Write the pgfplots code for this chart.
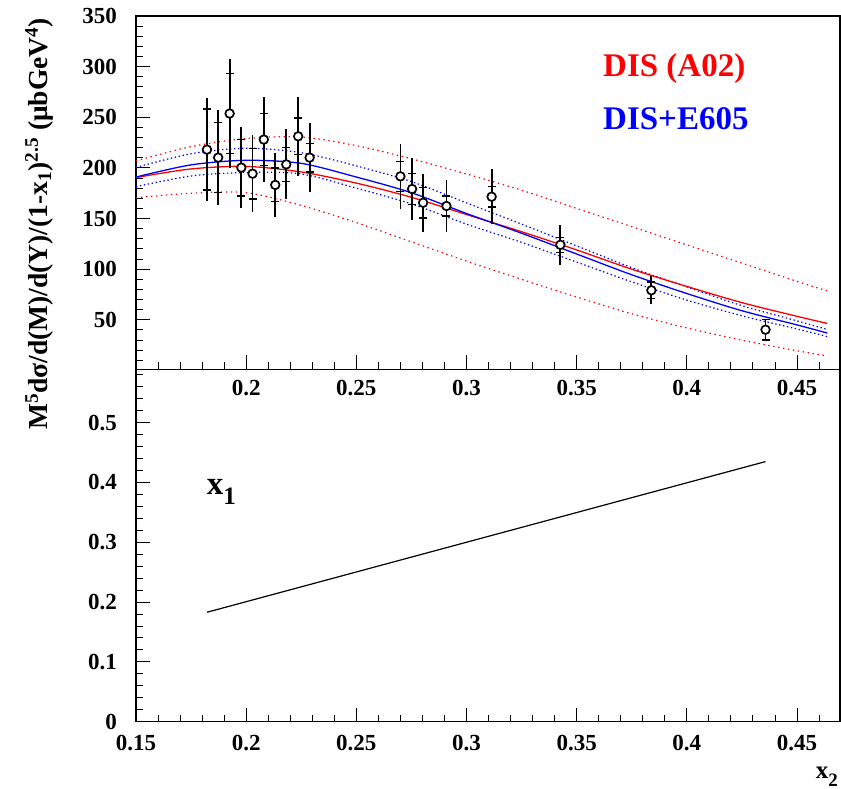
\documentclass[border=0pt]{standalone}
\usepackage{fontspec}
\setmainfont{Liberation Serif}
\usepackage{pgfplots}
\usepackage{pgfplotstable}
\pgfplotsset{compat=1.18}

\pgfplotstableread{
x y tot stat
0.1822 218.1 51 40
0.1873 210.2 46.5 34.5
0.1925 253.7 54 39.3
0.1978 200.3 40.3 28
0.2029 194.3 38 25
0.2080 228.0 42.3 25.5
0.2132 183.2 31.7 16.6
0.2182 203.5 34.5 16.7
0.2236 231.2 39 18
0.2288 210.2 34.4 14.2
0.2700 191.7 32.3 14.8
0.2753 179.2 30.2 15.2
0.2803 165.6 28.8 14.9
0.2909 162.4 25.8 9.8
0.3114 171.6 27.2 10.2
0.3426 124.1 19.8 7.4
0.3839 79.2 13.7 8
0.4357 40.3 11 10
}\data

\pgfplotstableread{
x rs bs bu bl ru rl
0.15   190.5 191   200.5 181.5 207   170.5
0.175  199   203   214   192   221   175
0.2    201.5 207.5 219.5 195.5 229   175.5
0.225  196   204.5 215   194   230.5 163
0.25   185   191   202   180   222   146
0.275  171   175.5 186.5 164.5 209   127
0.3    154   155   165.5 144.5 194   108
0.325  137   135.5 144.5 126.5 178   90
0.35   119   115   123   107   160   72.5
0.375  100   94.5  101.5 87.5  142   56
0.4    83    76    82.5  69.5  124   42
0.425  67    59    64    54    106   30
0.45   53.5  45    49    41    88    19.5
0.4637 46.5  37    40.5  33.5  78.6  14.5
}\curves

\begin{document}
\begin{tikzpicture}[x=1pt,y=1pt]
\path[use as bounding box] (0,0) rectangle (841,789);
\pgfplotsset{
  common/.style={
    scale only axis, width=704pt,
    xmin=0.15, xmax=0.4695,
    axis line style={line width=1.6pt},
    tick align=inside, tick pos=left,
    major tick length=14pt, minor tick length=7pt,
    every tick/.style={black, line width=1pt},
    minor xtick={0.16,0.17,0.18,0.19,0.21,0.22,0.23,0.24,0.26,0.27,0.28,0.29,0.31,0.32,0.33,0.34,0.36,0.37,0.38,0.39,0.41,0.42,0.43,0.44,0.46},
    /pgf/number format/assume math mode=true,
    ticklabel style={font=\fontsize{23}{23}\selectfont\bfseries, inner sep=0pt},
    yticklabel style={xshift=-19pt},
  }
}
\begin{axis}[common, at={(136pt,419.5pt)}, anchor=south west, height=353.5pt,
  ymin=1, ymax=350,
  xtick={0.2,0.25,0.3,0.35,0.4,0.45},
  ytick={50,100,150,200,250,300,350},
  minor ytick={10,20,30,40,60,70,80,90,110,120,130,140,160,170,180,190,210,220,230,240,260,270,280,290,310,320,330,340},
  xticklabel style={yshift=-10.5pt}]
\addplot[red, line width=1.2pt, dash pattern=on 1.4pt off 3.6pt, smooth] table[x=x,y=ru] \curves;
\addplot[red, line width=1.2pt, dash pattern=on 1.4pt off 3.6pt, smooth] table[x=x,y=rl] \curves;
\addplot[blue, line width=1.2pt, dash pattern=on 1.4pt off 2.6pt, smooth] table[x=x,y=bu] \curves;
\addplot[blue, line width=1.2pt, dash pattern=on 1.4pt off 2.6pt, smooth] table[x=x,y=bl] \curves;
\addplot[red, line width=1.3pt, smooth] table[x=x,y=rs] \curves;
\addplot[blue, line width=1.3pt, smooth] table[x=x,y=bs] \curves;
\addplot[only marks, mark=none, error bars/.cd, y dir=both, y explicit, error mark=none,
  error bar style={black, line width=1.8pt}] table[x=x, y=y, y error=tot] \data;
\addplot[only marks, mark=none, error bars/.cd, y dir=both, y explicit, error mark=-,
  error mark options={rotate=90, black, line width=1.4pt, mark size=4pt},
  error bar style={black, line width=1.8pt}] table[x=x, y=y, y error=stat] \data;
\addplot[only marks, mark=*, mark size=4.3pt, mark options={draw=black, fill=white, line width=1.7pt}] table[x=x,y=y] \data;
\end{axis}
\begin{axis}[common, at={(136pt,67.3pt)}, anchor=south west, height=352.2pt,
  ymin=0, ymax=0.589,
  xtick={0.15,0.2,0.25,0.3,0.35,0.4,0.45},
  ytick={0,0.1,0.2,0.3,0.4,0.5},
  minor ytick={0.02,0.04,0.06,0.08,0.12,0.14,0.16,0.18,0.22,0.24,0.26,0.28,0.32,0.34,0.36,0.38,0.42,0.44,0.46,0.48,0.52,0.54,0.56,0.58},
  xticklabel style={yshift=-13pt}]
\addplot[black, line width=1.2pt] coordinates {(0.1822,0.183) (0.4357,0.435)};
\end{axis}
\node[rotate=90, anchor=base east, inner sep=0pt, font=\fontsize{27.5}{27.5}\selectfont\bfseries] at (47,771)
  {M\textsuperscript{5}dσ/d(M)/d(Y)/(1-x\textsubscript{1})\textsuperscript{2.5} (μbGeV\textsuperscript{4})};
\node[anchor=base west, inner sep=0pt, text=red, font=\fontsize{33}{33}\selectfont\bfseries] at (603,712.3) {DIS (A02)};
\node[anchor=base west, inner sep=0pt, text=blue, font=\fontsize{33}{33}\selectfont\bfseries] at (603,659) {DIS+E605};
\node[anchor=base west, inner sep=0pt, font=\fontsize{33}{33}\selectfont\bfseries] at (206.7,294.7) {x\raisebox{-0.3em}{\fontsize{25}{25}\selectfont 1}};
\node[anchor=base east, inner sep=0pt, font=\fontsize{25}{25}\selectfont\bfseries] at (838,10) {x\raisebox{-0.3em}{\fontsize{19}{19}\selectfont 2}};
\end{tikzpicture}
\end{document}
